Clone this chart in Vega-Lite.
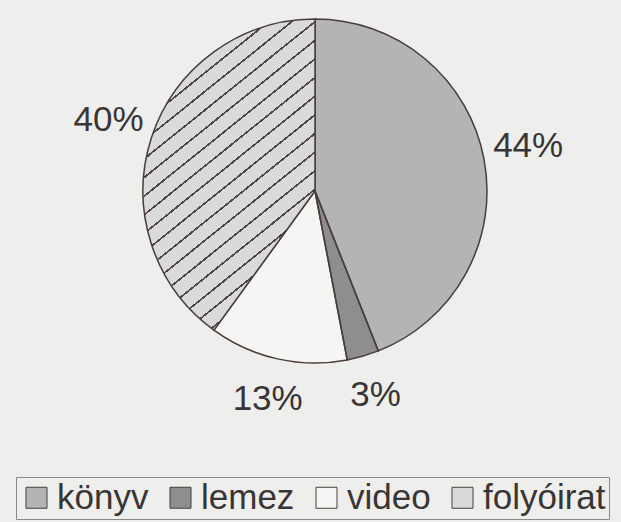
{
  "$schema": "https://vega.github.io/schema/vega-lite/v6.json",
  "width": 612,
  "height": 382,
  "autosize": "none",
  "padding": {"left": 9, "top": 0, "right": 0, "bottom": 140},
  "background": "#eeeeec",
  "view": {"stroke": null},
  "data": {
    "values": [
      {"cat": "könyv", "v": 0.44, "o": 1},
      {"cat": "lemez", "v": 0.03, "o": 2},
      {"cat": "video", "v": 0.13, "o": 3},
      {"cat": "folyóirat", "v": 0.40, "o": 4}
    ]
  },
  "encoding": {
    "theta": {"field": "v", "type": "quantitative", "stack": true},
    "order": {"field": "o", "type": "quantitative"}
  },
  "layer": [
    {
      "mark": {"type": "arc", "outerRadius": 172, "strokeWidth": 0},
      "encoding": {
        "color": {
          "field": "cat",
          "type": "nominal",
          "sort": ["könyv", "lemez", "video", "folyóirat"],
          "scale": {
            "domain": ["könyv", "lemez", "video", "folyóirat"],
            "range": ["#b4b4b4", "#8e8e8e", "#f5f5f3", "#dadada"]
          },
          "legend": {
            "title": null,
            "orient": "none",
            "legendX": 7,
            "legendY": 477,
            "direction": "horizontal",
            "columns": 4,
            "labelFont": "Liberation Sans",
            "labelFontSize": 35,
            "labelColor": "#3a3535",
            "symbolType": "square",
            "symbolSize": 441,
            "symbolStrokeColor": "#4a3c3c",
            "symbolStrokeWidth": 1,
            "symbolOpacity": 1,
            "labelOffset": 3,
            "columnPadding": 14,
            "strokeColor": "#888888",
            "padding": 3
          }
        }
      }
    },
    {
      "mark": {
        "type": "arc",
        "outerRadius": 172,
        "stroke": "#4a3c3c",
        "strokeWidth": 1.5,
        "fill": {
          "gradient": "linear", "x1": 0, "y1": 0, "x2": 0.444, "y2": 1,
          "stops": [
            {"offset": 0, "color": "#dadada"},
            {"offset": 0.025, "color": "#dadada"}, {"offset": 0.025, "color": "#4f4646"}, {"offset": 0.031, "color": "#4f4646"}, {"offset": 0.031, "color": "#dadada"},
            {"offset": 0.075, "color": "#dadada"}, {"offset": 0.075, "color": "#4f4646"}, {"offset": 0.081, "color": "#4f4646"}, {"offset": 0.081, "color": "#dadada"},
            {"offset": 0.125, "color": "#dadada"}, {"offset": 0.125, "color": "#4f4646"}, {"offset": 0.131, "color": "#4f4646"}, {"offset": 0.131, "color": "#dadada"},
            {"offset": 0.175, "color": "#dadada"}, {"offset": 0.175, "color": "#4f4646"}, {"offset": 0.181, "color": "#4f4646"}, {"offset": 0.181, "color": "#dadada"},
            {"offset": 0.225, "color": "#dadada"}, {"offset": 0.225, "color": "#4f4646"}, {"offset": 0.231, "color": "#4f4646"}, {"offset": 0.231, "color": "#dadada"},
            {"offset": 0.275, "color": "#dadada"}, {"offset": 0.275, "color": "#4f4646"}, {"offset": 0.281, "color": "#4f4646"}, {"offset": 0.281, "color": "#dadada"},
            {"offset": 0.325, "color": "#dadada"}, {"offset": 0.325, "color": "#4f4646"}, {"offset": 0.331, "color": "#4f4646"}, {"offset": 0.331, "color": "#dadada"},
            {"offset": 0.375, "color": "#dadada"}, {"offset": 0.375, "color": "#4f4646"}, {"offset": 0.381, "color": "#4f4646"}, {"offset": 0.381, "color": "#dadada"},
            {"offset": 0.425, "color": "#dadada"}, {"offset": 0.425, "color": "#4f4646"}, {"offset": 0.431, "color": "#4f4646"}, {"offset": 0.431, "color": "#dadada"},
            {"offset": 0.475, "color": "#dadada"}, {"offset": 0.475, "color": "#4f4646"}, {"offset": 0.481, "color": "#4f4646"}, {"offset": 0.481, "color": "#dadada"},
            {"offset": 0.525, "color": "#dadada"}, {"offset": 0.525, "color": "#4f4646"}, {"offset": 0.531, "color": "#4f4646"}, {"offset": 0.531, "color": "#dadada"},
            {"offset": 0.575, "color": "#dadada"}, {"offset": 0.575, "color": "#4f4646"}, {"offset": 0.581, "color": "#4f4646"}, {"offset": 0.581, "color": "#dadada"},
            {"offset": 0.625, "color": "#dadada"}, {"offset": 0.625, "color": "#4f4646"}, {"offset": 0.631, "color": "#4f4646"}, {"offset": 0.631, "color": "#dadada"},
            {"offset": 0.675, "color": "#dadada"}, {"offset": 0.675, "color": "#4f4646"}, {"offset": 0.681, "color": "#4f4646"}, {"offset": 0.681, "color": "#dadada"},
            {"offset": 0.725, "color": "#dadada"}, {"offset": 0.725, "color": "#4f4646"}, {"offset": 0.731, "color": "#4f4646"}, {"offset": 0.731, "color": "#dadada"},
            {"offset": 0.775, "color": "#dadada"}, {"offset": 0.775, "color": "#4f4646"}, {"offset": 0.781, "color": "#4f4646"}, {"offset": 0.781, "color": "#dadada"},
            {"offset": 0.825, "color": "#dadada"}, {"offset": 0.825, "color": "#4f4646"}, {"offset": 0.831, "color": "#4f4646"}, {"offset": 0.831, "color": "#dadada"},
            {"offset": 0.875, "color": "#dadada"}, {"offset": 0.875, "color": "#4f4646"}, {"offset": 0.881, "color": "#4f4646"}, {"offset": 0.881, "color": "#dadada"},
            {"offset": 0.925, "color": "#dadada"}, {"offset": 0.925, "color": "#4f4646"}, {"offset": 0.931, "color": "#4f4646"}, {"offset": 0.931, "color": "#dadada"},
            {"offset": 0.975, "color": "#dadada"}, {"offset": 0.975, "color": "#4f4646"}, {"offset": 0.981, "color": "#4f4646"}, {"offset": 0.981, "color": "#dadada"},
            {"offset": 1, "color": "#dadada"}
          ]
        }
      },
      "encoding": {
        "fillOpacity": {
          "condition": {"test": "datum.cat === 'folyóirat'", "value": 1},
          "value": 0
        }
      }
    },
    {
      "mark": {
        "type": "text",
        "radius": 217,
        "dy": -4,
        "font": "Liberation Sans",
        "fontSize": 35,
        "color": "#3a3535",
        "baseline": "middle",
        "align": "center"
      },
      "encoding": {
        "text": {"field": "v", "type": "quantitative", "format": ".0%"}
      }
    }
  ]
}
